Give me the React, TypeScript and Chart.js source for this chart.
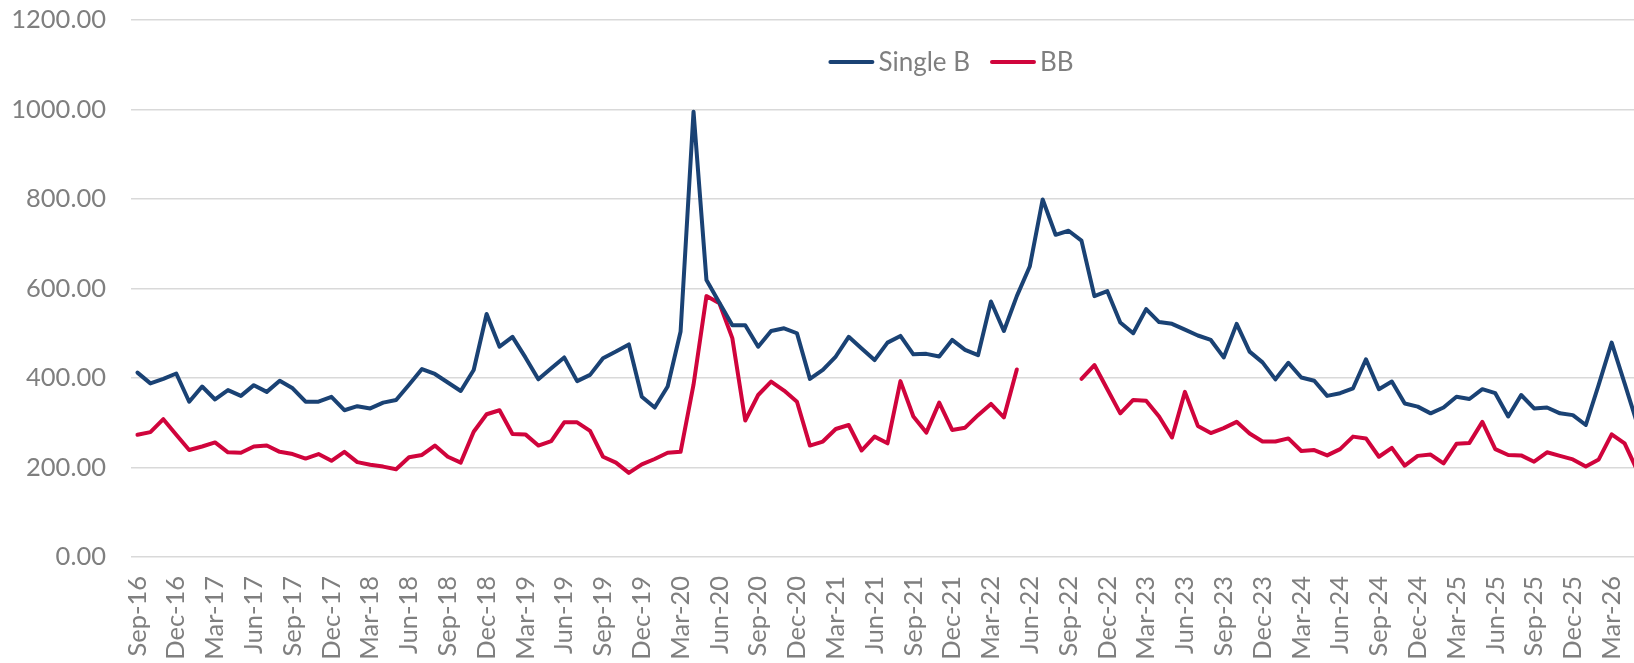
import React, { useEffect, useRef } from 'react';
import { Chart, registerables } from 'chart.js';

Chart.register(...registerables);

// Monthly categories, Sep-16 .. May-26 (last points run past the right edge)
const months: string[] = [
  'Sep-16', 'Oct-16', 'Nov-16', 'Dec-16',
  'Jan-17', 'Feb-17', 'Mar-17', 'Apr-17', 'May-17', 'Jun-17', 'Jul-17', 'Aug-17', 'Sep-17', 'Oct-17', 'Nov-17', 'Dec-17',
  'Jan-18', 'Feb-18', 'Mar-18', 'Apr-18', 'May-18', 'Jun-18', 'Jul-18', 'Aug-18', 'Sep-18', 'Oct-18', 'Nov-18', 'Dec-18',
  'Jan-19', 'Feb-19', 'Mar-19', 'Apr-19', 'May-19', 'Jun-19', 'Jul-19', 'Aug-19', 'Sep-19', 'Oct-19', 'Nov-19', 'Dec-19',
  'Jan-20', 'Feb-20', 'Mar-20', 'Apr-20', 'May-20', 'Jun-20', 'Jul-20', 'Aug-20', 'Sep-20', 'Oct-20', 'Nov-20', 'Dec-20',
  'Jan-21', 'Feb-21', 'Mar-21', 'Apr-21', 'May-21', 'Jun-21', 'Jul-21', 'Aug-21', 'Sep-21', 'Oct-21', 'Nov-21', 'Dec-21',
  'Jan-22', 'Feb-22', 'Mar-22', 'Apr-22', 'May-22', 'Jun-22', 'Jul-22', 'Aug-22', 'Sep-22', 'Oct-22', 'Nov-22', 'Dec-22',
  'Jan-23', 'Feb-23', 'Mar-23', 'Apr-23', 'May-23', 'Jun-23', 'Jul-23', 'Aug-23', 'Sep-23', 'Oct-23', 'Nov-23', 'Dec-23',
  'Jan-24', 'Feb-24', 'Mar-24', 'Apr-24', 'May-24', 'Jun-24', 'Jul-24', 'Aug-24', 'Sep-24', 'Oct-24', 'Nov-24', 'Dec-24',
  'Jan-25', 'Feb-25', 'Mar-25', 'Apr-25', 'May-25', 'Jun-25', 'Jul-25', 'Aug-25', 'Sep-25', 'Oct-25', 'Nov-25', 'Dec-25',
  'Jan-26', 'Feb-26', 'Mar-26', 'Apr-26', 'May-26',
];

const singleB: number[] = [
  412, 388, 398, 410,
  347, 381, 352, 373, 360, 384, 369, 394, 377, 347, 347, 358,
  328, 337, 332, 345, 351, 385, 420, 409, 390, 371, 418, 543,
  470, 492, 446, 397, 422, 446, 393, 407, 444, 459, 475, 358,
  334, 381, 504, 995, 619, 568, 518, 518, 470, 505, 511, 500,
  398, 418, 448, 492, 466, 440, 479, 494, 453, 454, 448, 485,
  463, 451, 571, 505, 583, 649, 799, 720, 729, 707, 583, 594,
  524, 500, 554, 525, 521, 508, 495, 485, 446, 521, 459, 435,
  397, 434, 401, 394, 360, 366, 377, 442, 375, 392, 343, 336,
  321, 334, 358, 353, 375, 366, 314, 362, 332, 334, 321, 317,
  295, 385, 479, 388, 296,
];

const bb: (number | null)[] = [
  273, 279, 308, 273,
  239, 247, 256, 234, 233, 247, 249, 235, 230, 220, 230, 215,
  235, 212, 206, 202, 196, 223, 228, 249, 224, 211, 280, 319,
  328, 275, 274, 249, 259, 301, 301, 282, 224, 211, 188, 207,
  219, 233, 235, 385, 583, 567, 489, 305, 362, 392, 372, 347,
  249, 258, 286, 295, 238, 269, 254, 393, 314, 278, 345, 284,
  289, 317, 342, 312, 419, null, null, null, null, 398, 429, 375,
  321, 351, 349, 314, 267, 369, 293, 277, 288, 302, 276, 258,
  258, 265, 237, 239, 227, 241, 269, 265, 224, 244, 204, 226,
  229, 209, 253, 255, 302, 241, 228, 227, 213, 234, 226, 218,
  202, 218, 274, 254, 192,
];

const seriesNames = ['Single B', 'BB'];
const seriesColors = ['#1a4274', '#d0043c'];

const FONT = 'Lato';
const GREY = '#7f7f7f';

const inlineLegend = {
  id: 'inlineLegend',
  afterDraw(chart: any, _args: any, opts: any) {
    const ctx = chart.ctx as CanvasRenderingContext2D;
    ctx.save();
    ctx.font = `${opts.fontSize}px ${opts.fontFamily}`;
    const items = chart.data.datasets.map((ds: any) => ({
      text: ds.label as string,
      color: ds.borderColor as string,
      w: ctx.measureText(ds.label).width,
    }));
    const total =
      items.reduce((s: number, it: any) => s + opts.lineLen + opts.gap + it.w, 0) +
      opts.itemGap * (items.length - 1);
    let x = opts.centerX - total / 2;
    const y = opts.y;
    for (const it of items) {
      ctx.strokeStyle = it.color;
      ctx.lineWidth = 4;
      ctx.lineCap = 'round';
      ctx.beginPath();
      ctx.moveTo(x + 2, y);
      ctx.lineTo(x + opts.lineLen - 2, y);
      ctx.stroke();
      x += opts.lineLen + opts.gap;
      ctx.fillStyle = opts.color;
      ctx.textAlign = 'left';
      ctx.textBaseline = 'middle';
      ctx.fillText(it.text, x, y + 1);
      x += it.w + opts.itemGap;
    }
    ctx.restore();
  },
};

export default function App() {
  const ref = useRef<HTMLCanvasElement>(null);

  useEffect(() => {
    if (!ref.current) return;
    const chart = new Chart(ref.current, {
      type: 'line',
      data: {
        labels: months,
        datasets: [
          {
            label: seriesNames[0],
            data: singleB,
            borderColor: seriesColors[0],
            backgroundColor: seriesColors[0],
            borderWidth: 4,
            pointRadius: 0,
            tension: 0,
            fill: false,
            borderJoinStyle: 'round',
            borderCapStyle: 'round',
          },
          {
            label: seriesNames[1],
            data: bb,
            borderColor: seriesColors[1],
            backgroundColor: seriesColors[1],
            borderWidth: 4,
            pointRadius: 0,
            tension: 0,
            fill: false,
            spanGaps: false,
            borderJoinStyle: 'round',
            borderCapStyle: 'round',
          },
        ],
      },
      options: {
        responsive: false,
        animation: false,
        layout: { padding: { top: 20, left: 0, right: 0, bottom: 0 } },
        plugins: {
          legend: { display: false },
          tooltip: { enabled: false },
          inlineLegend: {
            centerX: 951,
            y: 62,
            lineLen: 46,
            gap: 4,
            itemGap: 20,
            fontSize: 26,
            fontFamily: FONT,
            color: GREY,
          },
        } as any,
        scales: {
          x: {
            type: 'category',
            offset: true,
            grid: { display: false, drawTicks: false },
            border: { display: false },
            ticks: {
              autoSkip: false,
              minRotation: 90,
              maxRotation: 90,
              padding: 19,
              color: GREY,
              font: { family: FONT, size: 25.5 },
              callback: (_v: any, i: number) => (i % 3 === 0 ? months[i] : ''),
            },
            afterFit: (s: any) => {
              s.height = 106;
              s.paddingLeft = 0;
              s.paddingRight = 0;
            },
          },
          y: {
            min: 0,
            max: 1200,
            grid: { color: '#d9d9d9', lineWidth: 1.5, drawTicks: false },
            border: { display: false },
            ticks: {
              stepSize: 200,
              padding: 25,
              color: GREY,
              font: { family: FONT, size: 25.5 },
              callback: (v: any) => Number(v).toFixed(2),
            },
            afterFit: (s: any) => {
              s.width = 131;
              s.paddingTop = 0;
              s.paddingBottom = 0;
            },
          },
        },
      } as any,
      plugins: [inlineLegend],
    });
    return () => chart.destroy();
  }, []);

  return (
    <div
      style={{
        position: 'fixed',
        left: 0,
        top: 0,
        width: '100vw',
        height: '100vh',
        overflow: 'hidden',
        background: '#ffffff',
      }}
    >
      <canvas ref={ref} width={1644} height={663} style={{ display: 'block' }} />
    </div>
  );
}
